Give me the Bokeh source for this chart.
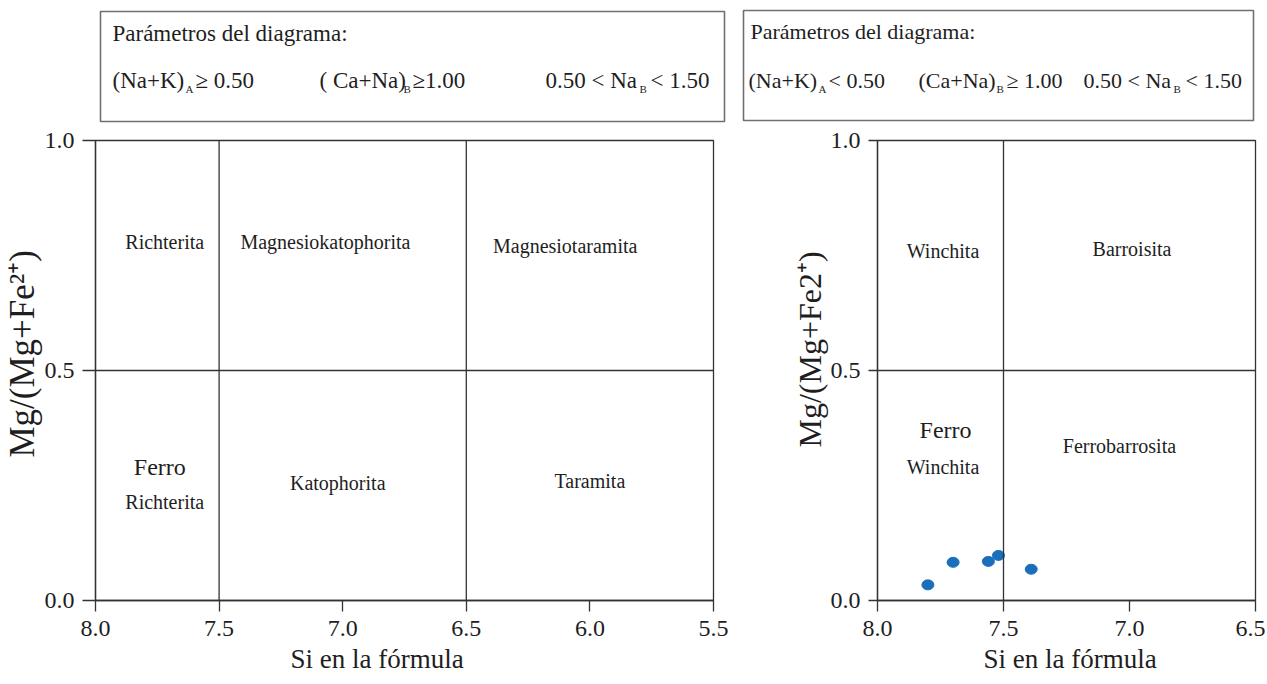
from bokeh.plotting import figure
from bokeh.layouts import column, row
from bokeh.models import Range1d, FixedTicker, Span, Title, NumeralTickFormatter
from bokeh.embed import file_html
from bokeh.resources import INLINE
from bokeh.core.properties import value

FONT = "Liberation Serif"
INK = "#1e1e1e"
LINE = "#333333"
BOX = "#707070"
BLUE = "#1b6fba"

# ---------------- data ----------------
si_ticks_left = [8.0, 7.5, 7.0, 6.5, 6.0, 5.5]
si_ticks_right = [8.0, 7.5, 7.0, 6.5]
mg_ticks = [0.0, 0.5, 1.0]
left_si_bounds = [7.5, 6.5]
right_si_bounds = [7.5]
mg_bound = 0.5

left_names = ["Richterita", "Magnesiokatophorita", "Magnesiotaramita",
              "Richterita", "Katophorita", "Taramita"]
left_name_si = [7.72, 7.07, 6.10, 7.72, 7.02, 6.00]
left_name_mg = [0.78, 0.78, 0.77, 0.215, 0.255, 0.26]
left_ferro_si = [7.74]
left_ferro_mg = [0.29]

right_names = ["Winchita", "Barroisita", "Winchita", "Ferrobarrosita"]
right_name_si = [7.74, 6.99, 7.74, 7.04]
right_name_mg = [0.76, 0.765, 0.29, 0.335]
right_ferro_si = [7.73]
right_ferro_mg = [0.37]

sample_si = [7.80, 7.70, 7.56, 7.52, 7.39]
sample_mg = [0.034, 0.083, 0.085, 0.098, 0.068]

x_title = "Si en la fórmula"
y_title_left = "Mg/(Mg+Fe²⁺)"
y_title_right = "Mg/(Mg+Fe2⁺)"


def base_plot(x_end, si_ticks, frame_w, border_left, border_right, y_tick_out, y_standoff):
    p = figure(x_range=Range1d(8.0, x_end), y_range=Range1d(0.0, 1.0),
               frame_width=frame_w, frame_height=460,
               min_border_left=border_left, min_border_right=border_right,
               min_border_top=15, min_border_bottom=5,
               output_backend="svg", toolbar_location=None,
               background_fill_color="white", border_fill_color="white",
               outline_line_color=LINE, outline_line_width=1.3)
    p.grid.visible = False
    p.xaxis.ticker = FixedTicker(ticks=si_ticks, minor_ticks=[])
    p.yaxis.ticker = FixedTicker(ticks=mg_ticks, minor_ticks=[])
    p.xaxis.formatter = NumeralTickFormatter(format="0.0")
    p.yaxis.formatter = NumeralTickFormatter(format="0.0")
    p.axis.axis_line_color = LINE
    p.axis.axis_line_width = 1.3
    p.axis.major_tick_line_color = LINE
    p.axis.major_tick_line_width = 1.3
    p.axis.major_tick_in = 0
    p.xaxis.major_tick_out = 11
    p.yaxis.major_tick_out = y_tick_out
    p.xaxis.major_label_standoff = 9
    p.yaxis.major_label_standoff = y_standoff
    p.axis.major_label_text_font = FONT
    p.axis.major_label_text_font_size = "24px"
    p.axis.major_label_text_color = INK
    p.axis.minor_tick_line_color = None
    return p


def add_bounds(p, si_bounds):
    for v in si_bounds:
        p.add_layout(Span(location=v, dimension="height", line_color=LINE, line_width=1.3))
    p.add_layout(Span(location=mg_bound, dimension="width", line_color=LINE, line_width=1.3))


def add_names(p, xs, ys, names, fx, fy):
    p.text(x=xs, y=ys, text=names, text_font=value(FONT), text_font_size="20px",
           text_align="center", text_baseline="middle", text_color=INK)
    p.text(x=fx, y=fy, text=["Ferro"], text_font=value(FONT), text_font_size="24px",
           text_align="center", text_baseline="middle", text_color=INK)


def add_titles(p, x_off, y_text, y_off, y_size):
    p.add_layout(Title(text=x_title, align="left", offset=x_off, text_font=FONT,
                       text_font_size="27px", text_font_style="normal", text_color=INK,
                       standoff=6), "below")
    p.add_layout(Title(text=y_text, align="left", offset=y_off, text_font=FONT,
                       text_font_size=y_size, text_font_style="normal", text_color=INK,
                       standoff=0), "left")


# ---------------- left diagram ----------------
pl = base_plot(5.5, si_ticks_left, 618, 87, 22, 13, 8)
add_bounds(pl, left_si_bounds)
add_names(pl, left_name_si, left_name_mg, left_names, left_ferro_si, left_ferro_mg)
add_titles(pl, 195, y_title_left, 143, "35px")

# ---------------- right diagram ----------------
pr = base_plot(6.5, si_ticks_right, 378, 142, 10, 9, 8)
add_bounds(pr, right_si_bounds)
add_names(pr, right_name_si, right_name_mg, right_names, right_ferro_si, right_ferro_mg)
pr.ellipse(x=sample_si, y=sample_mg, width=12, height=10, width_units="screen",
           height_units="screen", fill_color=BLUE, line_color=BLUE)
add_titles(pr, 106, y_title_right, 153, "32px")

# ---------------- parameter boxes ----------------
top = figure(x_range=Range1d(0, 1266), y_range=Range1d(125, 0),
             frame_width=1266, frame_height=125, min_border=0,
             x_axis_type=None, y_axis_type=None,
             output_backend="svg", toolbar_location=None, outline_line_color=None)
top.grid.visible = False
top.quad(left=[100, 743], right=[724, 1253], top=[11, 10], bottom=[121, 120],
         fill_color=None, line_color=BOX, line_width=1.6)

hdr = "Parámetros del diagrama:"
top.text(x=[112], y=[33], text=[hdr], text_font=value(FONT), text_font_size="23px",
         text_baseline="middle", text_color=INK)
top.text(x=[750], y=[31], text=[hdr], text_font=value(FONT), text_font_size="22px",
         text_baseline="middle", text_color=INK)

left_row = ["(Na+K)", "≥ 0.50", "( Ca+Na)", "≥1.00", "0.50 < Na", "< 1.50"]
left_row_x = [112, 195, 319, 412, 545, 650]
left_sub = ["A", "B", "B"]
left_sub_x = [185, 403, 639]
top.text(x=left_row_x, y=[80] * 6, text=left_row, text_font=value(FONT),
         text_font_size="23px", text_baseline="middle", text_color=INK)
top.text(x=left_sub_x, y=[88] * 3, text=left_sub, text_font=value(FONT),
         text_font_size="11px", text_baseline="middle", text_color=INK)

right_row = ["(Na+K)", "< 0.50", "(Ca+Na)", "≥ 1.00", "0.50 < Na", "< 1.50"]
right_row_x = [748, 828, 918, 1006, 1083, 1185]
right_sub = ["A", "B", "B"]
right_sub_x = [818, 996, 1173]
top.text(x=right_row_x, y=[80] * 6, text=right_row, text_font=value(FONT),
         text_font_size="22px", text_baseline="middle", text_color=INK)
top.text(x=right_sub_x, y=[88] * 3, text=right_sub, text_font=value(FONT),
         text_font_size="11px", text_baseline="middle", text_color=INK)

layout = column(top, row(pl, pr))
open("out.html", "w").write(file_html(layout, INLINE))
